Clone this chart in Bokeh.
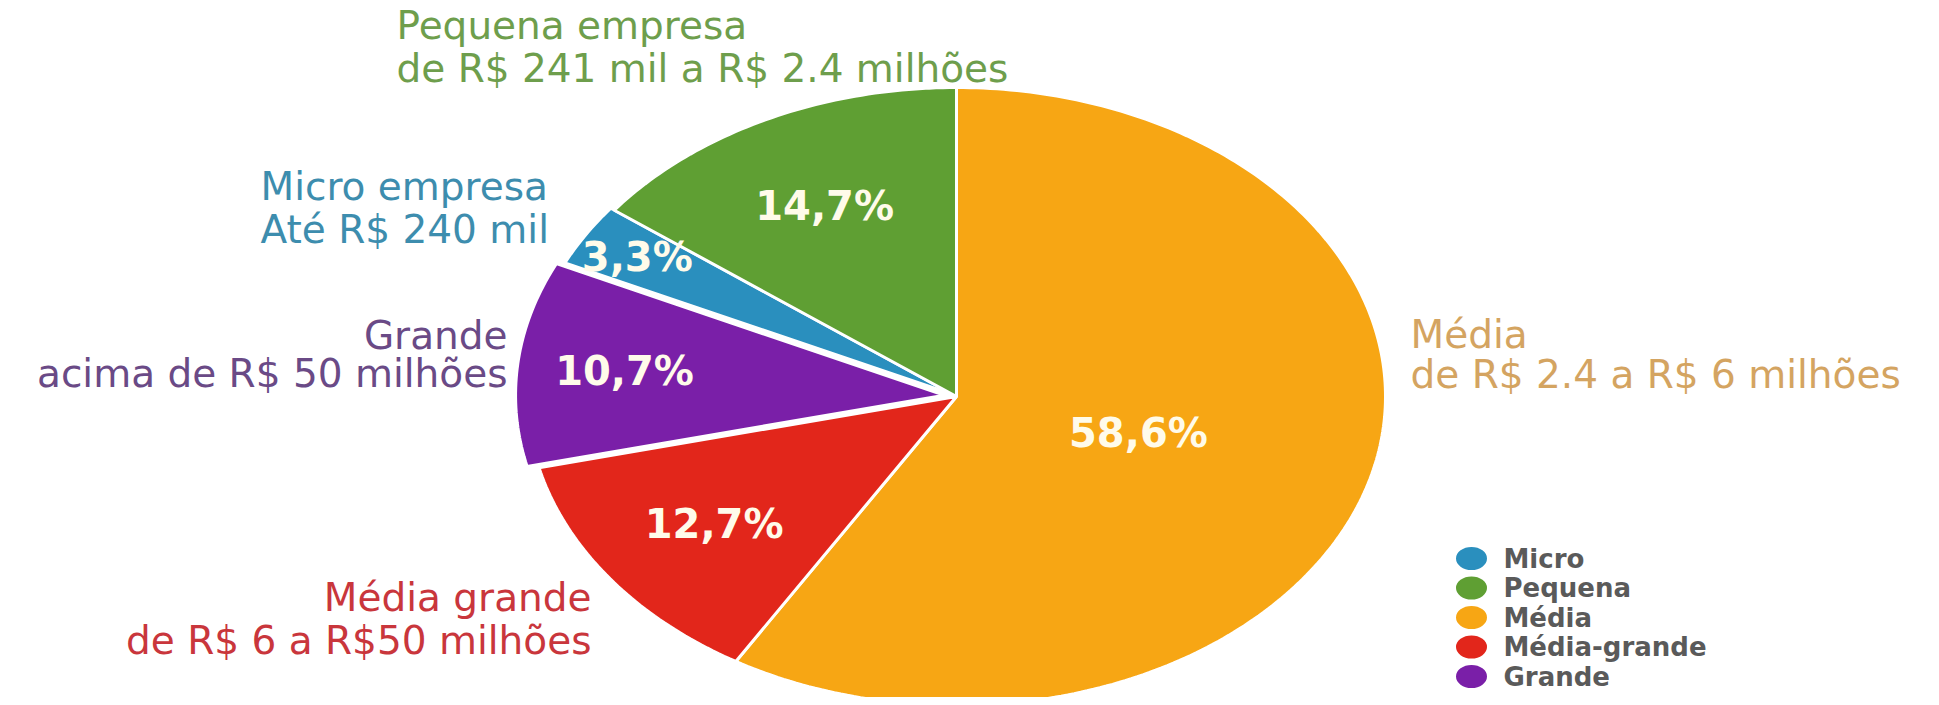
import math
from bokeh.plotting import figure
from bokeh.models import Range1d
from bokeh.core.properties import value
from bokeh.embed import file_html
from bokeh.resources import INLINE

# ---------------- data ----------------
categories = ["Micro", "Pequena", "Média", "Média-grande", "Grande"]
shares = [3.3, 14.7, 58.6, 12.7, 10.7]
pct_labels = ["3,3%", "14,7%", "58,6%", "12,7%", "10,7%"]
title_lines = ["Micro empresa", "Pequena empresa", "Média", "Média grande", "Grande"]
range_lines = ["Até R$ 240 mil", "de R$ 241 mil a R$ 2.4 milhões",
               "de R$ 2.4 a R$ 6 milhões", "de R$ 6 a R$50 milhões",
               "acima de R$ 50 milhões"]
colors = ["#2A8FBE", "#5F9F33", "#F7A614", "#E2261B", "#7A1FA8"]
label_colors = ["#3D8DAE", "#6E9E4C", "#D4A461", "#C9363C", "#6A4A86"]
draw_order = [2, 3, 4, 0, 1]          # clockwise from 12 o'clock

# ---------------- layout (pixels of the page) ----------------
CX, CY, RX, RY = 956, 396, 429, 309
explode = [4, 0, 0, 0, 12]
label_frac = [0.86, 0.69, 0.44, 0.70, 0.75]
outer_pos = [(260, 186, 229, "left"), (396, 25, 68, "left"),
             (1410, 334, 374, "left"), (591, 597, 640, "right"),
             (507, 335, 373, "right")]
LEG_X, LEG_Y0, LEG_DY = 1471, 558, 29.5

p = figure(width=1923, height=697, x_range=Range1d(0, 1923), y_range=Range1d(697, 0),
           x_axis_type=None, y_axis_type=None, toolbar_location=None,
           output_backend="svg", min_border=0, outline_line_color=None,
           background_fill_color="white", border_fill_color="white")
p.grid.visible = False

total = sum(shares)
xs, ys, fills = [], [], []
px, py = [], []
start = 0.0
for i in draw_order:
    span = shares[i] / total * 2 * math.pi
    a0, a1 = start, start + span
    mid = (a0 + a1) / 2
    ox = explode[i] * math.sin(mid)
    oy = -explode[i] * math.cos(mid)
    n = max(4, int(span / (2 * math.pi) * 400))
    sx = [CX + ox]
    sy = [CY + oy]
    for k in range(n + 1):
        a = a0 + (a1 - a0) * k / n
        sx.append(CX + ox + RX * math.sin(a))
        sy.append(CY + oy - RY * math.cos(a))
    xs.append(sx); ys.append(sy); fills.append(colors[i])
    px.append(CX + ox + RX * label_frac[i] * math.sin(mid))
    py.append(CY + oy - RY * label_frac[i] * math.cos(mid))
    start = a1

p.patches(xs=xs, ys=ys, fill_color=fills, line_color="white", line_width=3)

p.text(x=px, y=py, text=[pct_labels[i] for i in draw_order],
       text_font=value("DejaVu Sans"), text_font_style="bold",
       text_font_size="40px", text_color="#FFFBEA",
       text_align="center", text_baseline="middle")

for align in ("left", "right"):
    idx = [i for i in range(len(categories)) if outer_pos[i][3] == align]
    lx = [outer_pos[i][0] for i in idx]
    p.text(x=lx, y=[outer_pos[i][1] for i in idx], text=[title_lines[i] for i in idx],
           text_color=[label_colors[i] for i in idx],
           text_font=value("DejaVu Sans"), text_font_size="39px",
           text_align=align, text_baseline="middle")
    p.text(x=lx, y=[outer_pos[i][2] for i in idx], text=[range_lines[i] for i in idx],
           text_color=[label_colors[i] for i in idx],
           text_font=value("DejaVu Sans"), text_font_size="39px",
           text_align=align, text_baseline="middle")

leg_y = [LEG_Y0 + LEG_DY * k for k in range(len(categories))]
p.ellipse(x=[LEG_X] * len(categories), y=leg_y, width=31, height=23,
          fill_color=colors, line_color=None)
p.text(x=[LEG_X + 32] * len(categories), y=leg_y, text=categories,
       text_font=value("DejaVu Sans"), text_font_style="bold",
       text_font_size="26px", text_color="#5A5A5A",
       text_align="left", text_baseline="middle")

open("out.html", "w").write(file_html(p, INLINE))
